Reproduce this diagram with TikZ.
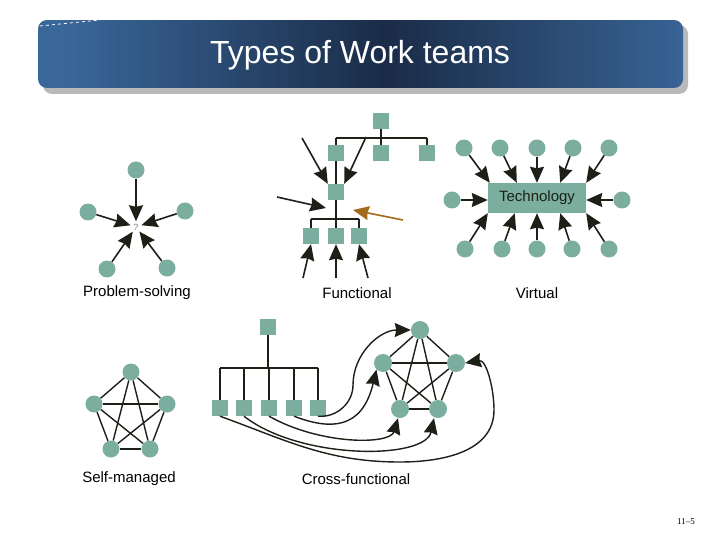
\documentclass[tikz,border=0pt]{standalone}
\usepackage{fontspec}
\setmainfont{Liberation Sans}
\newfontfamily\pagenumfont{Liberation Serif}
\usetikzlibrary{arrows.meta,backgrounds,calc}
\definecolor{nodeteal}{HTML}{7BAE9E}
\definecolor{arrdark}{HTML}{1C2016}
\definecolor{arrbrown}{HTML}{A36C1C}
\definecolor{barlight}{HTML}{3A679A}
\definecolor{bardark}{HTML}{1A2C47}
\begin{document}
\begin{tikzpicture}[x=1pt,y=-1pt,
  circ/.style={circle,fill=nodeteal,minimum size=17pt,inner sep=0pt},
  sq/.style={rectangle,fill=nodeteal,minimum size=16pt,inner sep=0pt},
  ar/.style={draw=arrdark,line width=1.6pt,-{Stealth[length=16pt,width=14pt,inset=1.5pt]}},
  arb/.style={draw=arrbrown,line width=1.6pt,-{Stealth[length=16pt,width=14pt,inset=1.5pt]}},
  tree/.style={draw=arrdark,line width=1.4pt},
  lbl/.style={font=\fontsize{15}{18}\selectfont,text=black}
]
\useasboundingbox (0,0) rectangle (720,540);
\begin{scope}[on background layer]
\fill[white] (0,0) rectangle (720,540);
\end{scope}

% ---- title bar
\fill[gray!55,rounded corners=9pt] (43,25) rectangle (688,94);
\begin{scope}
\clip[rounded corners=9pt] (38,20) rectangle (683,88);
\foreach \i in {0,...,65} {
  \pgfmathsetmacro{\tt}{min(100,abs(38+\i*10-380)/3.2)}
  \colorlet{stripc}{barlight!\tt!bardark}
  \fill[stripc] ({38+\i*10},20) rectangle ({49+\i*10},88);
}
\end{scope}
\draw[white,dashed,line width=0.8pt] (40,26) -- (100,20);
\node[text=white,font=\fontsize{32}{38}\selectfont] (title) at (360,55) {Types of Work teams};

% ---- Problem-solving
\node[circle,minimum size=11pt,inner sep=0pt,text=gray,font=\fontsize{9}{10}\selectfont] (q) at (136,227) {?};
\node[circ] (p1) at (136,170) {};
\node[circ] (p2) at (88,212) {};
\node[circ] (p3) at (185,211) {};
\node[circ] (p4) at (107,269) {};
\node[circ] (p5) at (167,268) {};
\foreach \p in {p1,p2,p3,p4,p5} \draw[ar] (\p) -- (q);
\node[lbl] (lps) at (137,293) {Problem-solving};

% ---- Functional
\node[sq] (f0) at (381,121) {};
\node[sq] (f1) at (336,153) {};
\node[sq] (f2) at (381,153) {};
\node[sq] (f3) at (427,153) {};
\node[sq] (f4) at (336,192) {};
\node[sq] (f5) at (311,236) {};
\node[sq] (f6) at (336,236) {};
\node[sq] (f7) at (359,236) {};
\coordinate (fbar1) at (381,138);
\coordinate (fbar2) at (336,219);
\begin{scope}[on background layer]
\draw[tree] (f0) -- (fbar1);
\draw[tree] (f1 |- fbar1) -- (f3 |- fbar1);
\draw[tree] (f2 |- fbar1) -- (f2);
\draw[tree] (f3 |- fbar1) -- (f3);
\draw[tree] (f1 |- fbar1) -- (fbar2);
\draw[tree] (f5 |- fbar2) -- (f7 |- fbar2);
\draw[tree] (f5 |- fbar2) -- (f5);
\draw[tree] (f7 |- fbar2) -- (f7);
\draw[tree] (fbar2) -- (f6);
\end{scope}
\coordinate (fa1) at (302,138);
\coordinate (fa2) at (366,137);
\coordinate (fa3s) at (277,197);
\coordinate (fa3e) at (326,208);
\coordinate (fbs) at (403,220);
\coordinate (fbe) at (353,210);
\coordinate (fa5) at (303,278);
\coordinate (fa6) at (336,278);
\coordinate (fa7) at (368,278);
\draw[ar] (fa1) -- (f4.north west);
\draw[ar] (fa2) -- (f4.north east);
\draw[ar] (fa3s) -- (fa3e);
\draw[arb] (fbs) -- (fbe);
\draw[ar] (fa5) -- (f5.south);
\draw[ar] (fa6) -- (f6.south);
\draw[ar] (fa7) -- (f7.south);
\node[lbl] (lfu) at (357,293) {Functional};

% ---- Virtual
\node[fill=nodeteal,minimum width=98pt,minimum height=30pt,inner sep=0pt,font=\fontsize{15}{17}\selectfont,text=arrdark] (tech) at (537,198) {Technology};
\node[circ] (v1) at (464,148) {};
\node[circ] (v2) at (500,148) {};
\node[circ] (v3) at (537,148) {};
\node[circ] (v4) at (573,148) {};
\node[circ] (v5) at (609,148) {};
\node[circ] (v6) at (452,200) {};
\node[circ] (v7) at (622,200) {};
\node[circ] (v8) at (465,249) {};
\node[circ] (v9) at (502,249) {};
\node[circ] (v10) at (537,249) {};
\node[circ] (v11) at (572,249) {};
\node[circ] (v12) at (609,249) {};
\draw[ar] (v1) -- ([xshift=2pt]tech.north west);
\draw[ar] (v2) -- ([xshift=29pt]tech.north west);
\draw[ar] (v3) -- (tech.north);
\draw[ar] (v4) -- ([xshift=-26pt]tech.north east);
\draw[ar] (v5) -- (tech.north east);
\draw[ar] (v6) -- (v6 -| tech.west);
\draw[ar] (v7) -- (v7 -| tech.east);
\draw[ar] (v8) -- (tech.south west);
\draw[ar] (v9) -- ([xshift=27pt]tech.south west);
\draw[ar] (v10) -- (tech.south);
\draw[ar] (v11) -- ([xshift=-26pt]tech.south east);
\draw[ar] (v12) -- (tech.south east);
\node[lbl] (lvi) at (537,293) {Virtual};

% ---- Self-managed
\node[circ] (s1) at (131,372) {};
\node[circ] (s2) at (94,404) {};
\node[circ] (s3) at (167,404) {};
\node[circ] (s4) at (111,449) {};
\node[circ] (s5) at (150,449) {};
\begin{scope}[on background layer]
\foreach \a/\b in {s1/s2,s1/s3,s1/s4,s1/s5,s2/s3,s2/s4,s2/s5,s3/s4,s3/s5,s4/s5}
  \draw[tree] (\a) -- (\b);
\end{scope}
\node[lbl] (lsm) at (129,479) {Self-managed};

% ---- Cross-functional
\node[sq] (c0) at (268,327) {};
\node[sq] (c1) at (220,408) {};
\node[sq] (c2) at (244,408) {};
\node[sq] (c3) at (269,408) {};
\node[sq] (c4) at (294,408) {};
\node[sq] (c5) at (318,408) {};
\coordinate (cbar) at (268,368);
\begin{scope}[on background layer]
\draw[tree] (c0) -- (cbar);
\draw[tree] (c1 |- cbar) -- (c5 |- cbar);
\foreach \c in {c1,c2,c3,c4,c5} \draw[tree] (\c |- cbar) -- (\c);
\end{scope}
\node[circ,minimum size=18pt] (k1) at (420,330) {};
\node[circ,minimum size=18pt] (k2) at (383,363) {};
\node[circ,minimum size=18pt] (k3) at (456,363) {};
\node[circ,minimum size=18pt] (k4) at (400,409) {};
\node[circ,minimum size=18pt] (k5) at (438,409) {};
\begin{scope}[on background layer]
\foreach \a/\b in {k1/k2,k1/k3,k1/k4,k1/k5,k2/k3,k2/k4,k2/k5,k3/k4,k3/k5,k4/k5}
  \draw[tree] (\a) -- (\b);
\end{scope}
\coordinate (cu1) at (353,385);
\coordinate (cu5a) at (400,462);
\coordinate (cu5b) at (494,410);
\draw[ar,line width=1.4pt] (c5.south) to[out=-5,in=-90] (cu1) to[out=90,in=180] (k1.west);
\draw[ar,line width=1.4pt] (c4.south) .. controls (330,430) and (362,430) .. (k2.south west);
\draw[ar,line width=1.4pt] (c3.south) .. controls (320,445) and (390,445) .. ([xshift=-2pt]k4.south);
\draw[ar,line width=1.4pt] (c2.south) .. controls (300,460) and (425,460) .. ([xshift=-4pt]k5.south);
\draw[ar,line width=1.4pt] (c1.south) to[out=-20,in=180] (cu5a) to[out=0,in=-90] (cu5b) to[out=90,in=10] (k3.east);
\node[lbl] (lcf) at (356,479) {Cross-functional};

% ---- page number
\node[font=\pagenumfont\fontsize{9}{10}\selectfont] (pg) at (686,522) {11–5};
\end{tikzpicture}
\end{document}
